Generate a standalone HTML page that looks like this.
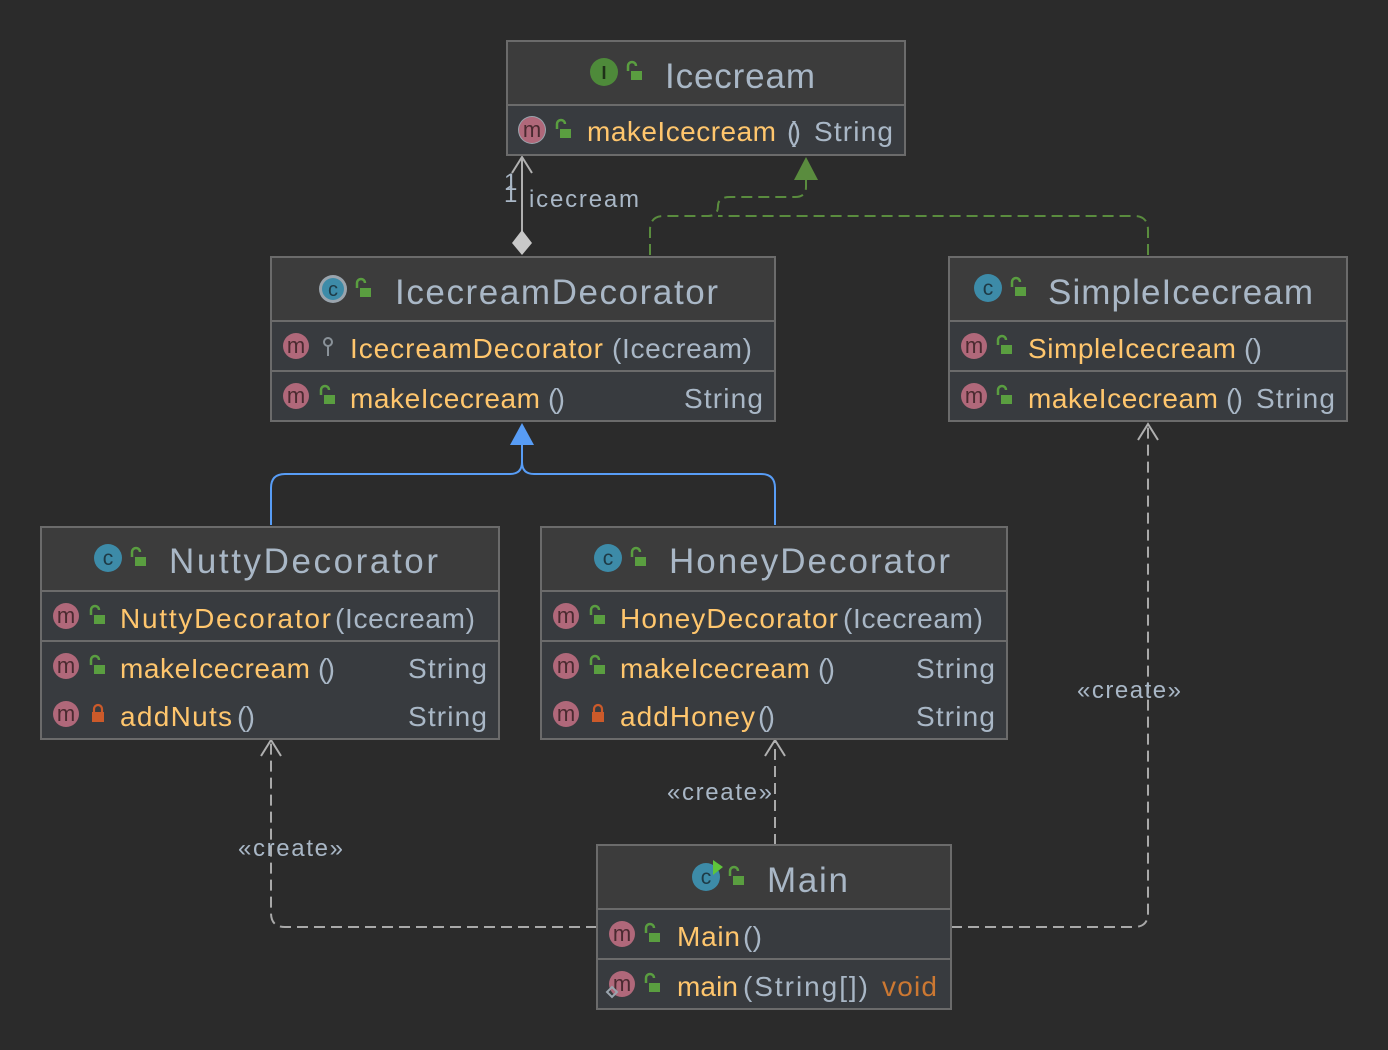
<!DOCTYPE html>
<html><head><meta charset="utf-8"><style>
html,body{margin:0;padding:0;background:#2b2b2b;}
svg{display:block;font-family:"Liberation Sans",sans-serif;}
.t{fill:#a9b7c6;font-size:35px;}
.m{fill:#ffc66d;font-size:28px;}
.s{fill:#a9b7c6;font-size:28px;}
.v{fill:#cc7832;font-size:28px;}
.l{fill:#a9b7c6;font-size:24px;}
.ml{fill:#4a2a30;font-size:22px;text-anchor:middle;}
</style></head><body>
<svg width="1388" height="1050" viewBox="0 0 1388 1050" xmlns="http://www.w3.org/2000/svg">
<defs>
<g id="mi"><circle r="13" fill="#b0687a"/><text y="7" class="ml">m</text></g>
<g id="lk"><path d="M-6,-2 v-5 a4,4 0 0 1 8,0" fill="none" stroke="#5a9e40" stroke-width="2.5"/><rect x="-3" y="-2" width="11" height="9" fill="#5a9e40"/></g>
<g id="lkr"><path d="M-3,-2 v-3 a4,4 0 0 1 8,0 v3" fill="none" stroke="#cc5a2a" stroke-width="2.2"/><rect x="-5" y="-2" width="12" height="10" fill="#cc5a2a"/></g>
<g id="ci"><circle r="14" fill="#3d8ba8"/><text y="7" text-anchor="middle" font-size="21" fill="#1e3a46">c</text></g>
</defs>
<rect width="1388" height="1050" fill="#2b2b2b"/>

<g fill="none" stroke-width="2">
<path d="M650,255 V230 Q650,216 664,216 H708 Q718,216 718,206 Q718,197 730,197 H795 Q806,197 806,187 V180 M1148,255 V230 Q1148,216 1134,216 H718" stroke="#5a8c3e" stroke-dasharray="11,6"/>
<path d="M271,525 V488 Q271,474 285,474 H510 Q522,474 522,462 V445 M775,525 V488 Q775,474 761,474 H534 Q522,474 522,462" stroke="#589df6"/>
<path d="M597,927 H285 Q271,927 271,913 V742 M775,845 V742 M951,927 H1134 Q1148,927 1148,913 V424" stroke="#a9a9a9" stroke-dasharray="11,6"/>
<path d="M522,157 V232" stroke="#b0b0b0"/>
<path d="M512,173 L522,157 L532,173 M261,756 L271,740 L281,756 M765,756 L775,740 L785,756 M1138,440 L1148,424 L1158,440" stroke="#b0b0b0"/>
</g>
<polygon points="794,180 818,180 806,157" fill="#5a8c3e"/>
<polygon points="510,445 534,445 522,423" fill="#589df6"/>
<polygon points="522,230 532,243 522,255 512,243" fill="#c8c8c8"/>
<text x="504" y="190" class="l" font-size="20">1</text><text x="504" y="202" class="l" font-size="20">1</text>
<text x="529" y="207" class="l" textLength="110">icecream</text>
<text x="238" y="856" class="l" textLength="105">«create»</text>
<text x="667" y="800" class="l" textLength="105">«create»</text>
<text x="1077" y="698" class="l" textLength="104">«create»</text>

<rect x="507" y="41" width="398" height="114" fill="#3c3c3c" stroke="#6b6b6b" stroke-width="2"/>
<rect x="508" y="105" width="396" height="49" fill="#383b3f"/>
<line x1="507" y1="105" x2="905" y2="105" stroke="#6b6b6b" stroke-width="2"/>
<circle cx="604" cy="72" r="14" fill="#4e8a3a"/><text x="604" y="79" text-anchor="middle" font-size="18" fill="#1e3018" font-weight="bold">I</text>
<use href="#lk" x="634" y="73"/>
<text x="665" y="88" class="t" textLength="150">Icecream</text>
<circle cx="532" cy="130" r="14" fill="#9aa4ad"/><use href="#mi" x="532" y="130"/>
<use href="#lk" x="563" y="131"/>
<text x="587" y="141" class="m" textLength="189">makeIcecream</text>
<text x="787" y="141" class="s" textLength="14">()</text>
<text x="814" y="141" class="s" textLength="79">String</text>

<rect x="271" y="257" width="504" height="164" fill="#3c3c3c" stroke="#6b6b6b" stroke-width="2"/>
<rect x="272" y="321" width="502" height="99" fill="#383b3f"/>
<line x1="271" y1="321" x2="775" y2="321" stroke="#6b6b6b" stroke-width="2"/>
<line x1="271" y1="371" x2="775" y2="371" stroke="#6b6b6b" stroke-width="2"/>
<circle cx="333" cy="289" r="14" fill="#9aa4ad"/><circle cx="333" cy="289" r="11" fill="#3d8ba8"/><text x="333" y="296" text-anchor="middle" font-size="20" fill="#1e3a46">c</text>
<use href="#lk" x="363" y="290"/>
<text x="395" y="304" class="t" textLength="323">IcecreamDecorator</text>
<use href="#mi" x="296" y="346"/>
<circle cx="328" cy="342" r="4" fill="none" stroke="#8a9299" stroke-width="2"/><line x1="328" y1="346" x2="328" y2="356" stroke="#8a9299" stroke-width="2"/>
<text x="350" y="358" class="m" textLength="253">IcecreamDecorator</text>
<text x="612" y="358" class="s" textLength="140">(Icecream)</text>
<use href="#mi" x="296" y="396"/><use href="#lk" x="327" y="397"/>
<text x="350" y="408" class="m" textLength="190">makeIcecream</text>
<text x="548" y="408" class="s" textLength="17">()</text>
<text x="684" y="408" class="s" textLength="79">String</text>

<rect x="949" y="257" width="398" height="164" fill="#3c3c3c" stroke="#6b6b6b" stroke-width="2"/>
<rect x="950" y="321" width="396" height="99" fill="#383b3f"/>
<line x1="949" y1="321" x2="1347" y2="321" stroke="#6b6b6b" stroke-width="2"/>
<line x1="949" y1="371" x2="1347" y2="371" stroke="#6b6b6b" stroke-width="2"/>
<use href="#ci" x="988" y="288"/><use href="#lk" x="1018" y="289"/>
<text x="1048" y="304" class="t" textLength="265">SimpleIcecream</text>
<use href="#mi" x="974" y="346"/><use href="#lk" x="1004" y="347"/>
<text x="1028" y="358" class="m" textLength="208">SimpleIcecream</text>
<text x="1244" y="358" class="s" textLength="18">()</text>
<use href="#mi" x="974" y="396"/><use href="#lk" x="1004" y="397"/>
<text x="1028" y="408" class="m" textLength="190">makeIcecream</text>
<text x="1226" y="408" class="s" textLength="17">()</text>
<text x="1256" y="408" class="s" textLength="79">String</text>

<rect x="41" y="527" width="458" height="212" fill="#3c3c3c" stroke="#6b6b6b" stroke-width="2"/>
<rect x="42" y="591" width="456" height="147" fill="#383b3f"/>
<line x1="41" y1="591" x2="499" y2="591" stroke="#6b6b6b" stroke-width="2"/>
<line x1="41" y1="641" x2="499" y2="641" stroke="#6b6b6b" stroke-width="2"/>
<use href="#ci" x="108" y="558"/><use href="#lk" x="138" y="559"/>
<text x="169" y="573" class="t" textLength="269">NuttyDecorator</text>
<use href="#mi" x="66" y="616"/><use href="#lk" x="97" y="617"/>
<text x="120" y="628" class="m" textLength="211">NuttyDecorator</text>
<text x="335" y="628" class="s" textLength="140">(Icecream)</text>
<use href="#mi" x="66" y="666"/><use href="#lk" x="97" y="667"/>
<text x="120" y="678" class="m" textLength="190">makeIcecream</text>
<text x="318" y="678" class="s" textLength="17">()</text>
<text x="408" y="678" class="s" textLength="79">String</text>
<use href="#mi" x="66" y="714"/><use href="#lkr" x="97" y="714"/>
<text x="120" y="726" class="m" textLength="112">addNuts</text>
<text x="237" y="726" class="s" textLength="18">()</text>
<text x="408" y="726" class="s" textLength="79">String</text>

<rect x="541" y="527" width="466" height="212" fill="#3c3c3c" stroke="#6b6b6b" stroke-width="2"/>
<rect x="542" y="591" width="464" height="147" fill="#383b3f"/>
<line x1="541" y1="591" x2="1007" y2="591" stroke="#6b6b6b" stroke-width="2"/>
<line x1="541" y1="641" x2="1007" y2="641" stroke="#6b6b6b" stroke-width="2"/>
<use href="#ci" x="608" y="558"/><use href="#lk" x="638" y="559"/>
<text x="669" y="573" class="t" textLength="281">HoneyDecorator</text>
<use href="#mi" x="566" y="616"/><use href="#lk" x="597" y="617"/>
<text x="620" y="628" class="m" textLength="218">HoneyDecorator</text>
<text x="843" y="628" class="s" textLength="140">(Icecream)</text>
<use href="#mi" x="566" y="666"/><use href="#lk" x="597" y="667"/>
<text x="620" y="678" class="m" textLength="190">makeIcecream</text>
<text x="818" y="678" class="s" textLength="17">()</text>
<text x="916" y="678" class="s" textLength="79">String</text>
<use href="#mi" x="566" y="714"/><use href="#lkr" x="597" y="714"/>
<text x="620" y="726" class="m" textLength="135">addHoney</text>
<text x="758" y="726" class="s" textLength="17">()</text>
<text x="916" y="726" class="s" textLength="79">String</text>

<rect x="597" y="845" width="354" height="164" fill="#3c3c3c" stroke="#6b6b6b" stroke-width="2"/>
<rect x="598" y="909" width="352" height="99" fill="#383b3f"/>
<line x1="597" y1="909" x2="951" y2="909" stroke="#6b6b6b" stroke-width="2"/>
<line x1="597" y1="959" x2="951" y2="959" stroke="#6b6b6b" stroke-width="2"/>
<use href="#ci" x="706" y="877"/><polygon points="713,860 713,875 723,867" fill="#5fc53a"/>
<use href="#lk" x="736" y="878"/>
<text x="767" y="892" class="t" textLength="81">Main</text>
<use href="#mi" x="622" y="934"/><use href="#lk" x="652" y="935"/>
<text x="677" y="946" class="m" textLength="63">Main</text>
<text x="743" y="946" class="s" textLength="19">()</text>
<use href="#mi" x="622" y="984"/><use href="#lk" x="652" y="985"/>
<polygon points="612,987 617,992 612,997 607,992" fill="none" stroke="#9aa4ad" stroke-width="2"/>
<text x="677" y="996" class="m" textLength="61">main</text>
<text x="743" y="996" class="s" textLength="125">(String[])</text>
<text x="882" y="996" class="v" textLength="55">void</text>
</svg>
</body></html>
